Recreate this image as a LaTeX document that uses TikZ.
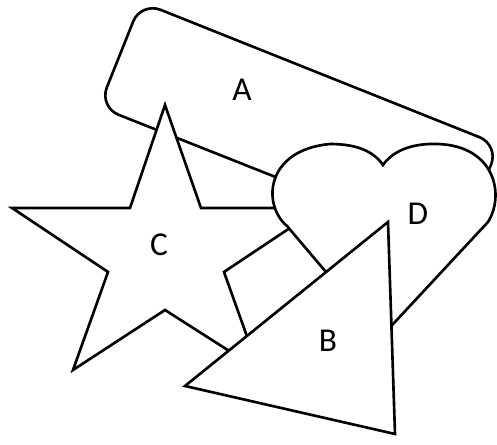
\documentclass[tikz,border=0pt]{standalone}
\usepackage{fontspec}
\setmainfont{Carlito}

\begin{document}
\begin{tikzpicture}[x=0.02cm, y=-0.02cm,
    piece/.style={draw=black, fill=white, line width=1.5pt, line join=miter},
    lbl/.style={font=\fontsize{19}{22}\selectfont, text=black},
  ]
  \useasboundingbox (0,0) rectangle (497,445);

  % ---- A: tilted rounded box, at the back
  \draw[piece, rounded corners=0.42cm]
    (141,2) -- (499,145) -- (457,249) -- (99,107) -- cycle;
  \node[lbl] (A) at (242,90) {A};

  % ---- C: five-pointed star
  \draw[piece] (165,105) -- (201,208) -- (320,208) -- (224,272) -- (259,370)
    -- (165,310) -- (73,370) -- (108,272) -- (12,208) -- (130,208) -- cycle;
  \node[lbl] (C) at (159,245) {C};

  % ---- D: heart
  \draw[piece] (381,337) -- (287,226)
    .. controls (262,205) and (265,150) .. (330,144)
    .. controls (358,144) and (374,152) .. (383,165)
    .. controls (392,152) and (410,143) .. (438,144)
    .. controls (495,146) and (505,195) .. (488,222) -- cycle;
  \node[lbl] (D) at (418,214) {D};

  % ---- B: triangle, on top
  \draw[piece] (388,222) -- (185,386) -- (395,434) -- cycle;
  \node[lbl] (B) at (328,341) {B};
\end{tikzpicture}
\end{document}
